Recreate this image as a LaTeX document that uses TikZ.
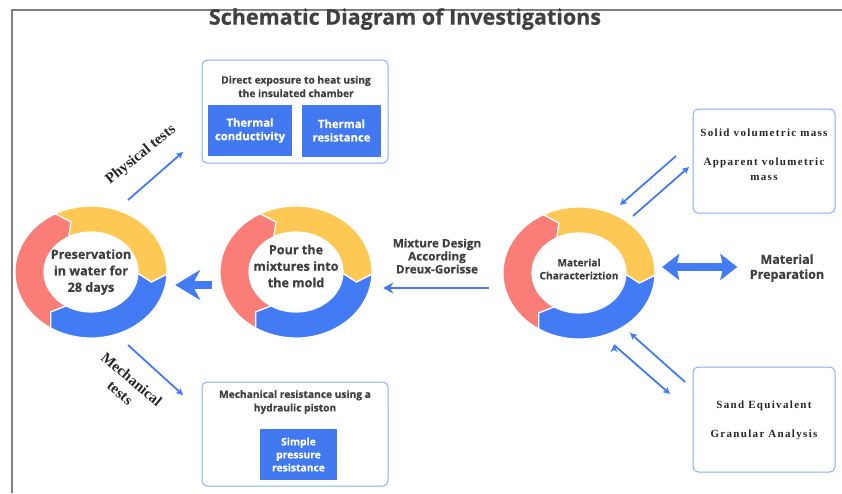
\documentclass[tikz,border=0pt]{standalone}
\usepackage{fontspec}
\setmainfont{Open Sans}[BoldFeatures={FakeBold=0.6}]
\newfontfamily\notefont{Liberation Serif}[LetterSpace=12]
\newfontfamily\labelfont{Liberation Serif}
\usetikzlibrary{arrows.meta,positioning,shapes.geometric}

\definecolor{ringred}{RGB}{250,125,120}
\definecolor{ringyellow}{RGB}{254,200,84}
\definecolor{ringblue}{RGB}{66,123,244}
\definecolor{boxblue}{RGB}{66,120,240}
\definecolor{boxline}{RGB}{140,170,245}
\definecolor{textgray}{RGB}{64,64,64}
\definecolor{framegray}{RGB}{128,128,128}

% one piece of a ring: colour, start angle, end angle (clockwise)
\newcommand\ringseg[3]{%
  \fill[#1,draw=white,line width=1.2pt] (#2:76 and 66)
    arc[start angle=#2,end angle=#3,x radius=76,y radius=66]
    -- (#3-9:61.5 and 53) -- (#3:47 and 40)
    arc[start angle=#3,end angle=#2,x radius=47,y radius=40]
    -- (#2-9:61.5 and 53) -- cycle;}

\tikzset{
  ring/.pic={
    \begin{scope}[yscale=-1]
      \ringseg{ringred}{238}{118}
      \ringseg{ringyellow}{118}{-2}
      \ringseg{ringblue}{-2}{-122}
    \end{scope}
  },
  ringtext/.style={ellipse,minimum width=152pt,minimum height=132pt,inner sep=0pt,
    align=center,text=textgray,font=\bfseries\fontsize{12.6}{16.5}\selectfont},
  testbox/.style={draw=boxline,line width=1pt,rounded corners=5pt},
  boxtitle/.style={align=center,text=textgray,font=\bfseries\fontsize{10.2}{13.5}\selectfont},
  bluebox/.style={fill=boxblue,text=white,align=center,inner sep=0pt,
    font=\bfseries\fontsize{11.3}{13.5}\selectfont},
  note/.style={align=center,text=black!85,font=\notefont\bfseries\fontsize{11}{15}\selectfont},
  flowlabel/.style={align=center,text=textgray,font=\bfseries\fontsize{11.7}{13}\selectfont},
  testlabel/.style={align=center,text=black!85,inner sep=0pt,
    font=\labelfont\bfseries\fontsize{15}{18}\selectfont},
  thinarrow/.style={-{Stealth[length=7pt,width=7pt,inset=2pt]},draw=ringblue,line width=1.8pt},
}

\begin{document}
\begin{tikzpicture}[x=1pt,y=-1pt,on grid]
                            % \draw[help lines] (0,0) grid (842,493);
                            \useasboundingbox (0,0) rectangle (842,493);
                            \draw[framegray,line width=1.5pt] (842,10) -- (12,10) -- (12,493);

                            \node[text=textgray,font=\bfseries\fontsize{21.5}{24}\selectfont] (title) at (405,19) {Schematic Diagram of Investigations};

                            \node[ringtext] (keep) at (91,272) {Preservation\\in water for\\28 days};
                            \node[ringtext] (pour) at (296,266) {Pour the\\mixtures into\\the mold};
                            \node[ringtext,font=\bfseries\fontsize{10.2}{13}\selectfont] (charac) at (579,269) {Material\\Characteriztion};
                            \pic at (keep) {ring};
                            \pic at ([yshift=-6pt]pour.center) {ring};
                            \pic at ([yshift=-4pt]charac.center) {ring};

                            \node[testbox,minimum width=186pt,minimum height=103pt] (heatbox) at (295,111.5) {};
                            \node[boxtitle] (heattitle) at (296,86.5) {Direct exposure to heat using\\the insulated chamber};
                            \node[bluebox,minimum width=84pt,minimum height=51pt] (conduct) at (250,130.5) {Thermal\\conductivity};
                            \node[bluebox,minimum width=79pt,minimum height=52pt] (resist) [right=91.5pt of conduct] {Thermal\\resistance};

                            \node[testbox,minimum width=186pt,minimum height=104pt] (pressbox) [below=322.5pt of heatbox] {};
                            \node[boxtitle] (presstitle) at (295,402) {Mechanical resistance using a\\hydraulic piston};
                            \node[bluebox,minimum width=77pt,minimum height=51pt,font=\bfseries\fontsize{10.3}{13}\selectfont] (simple) at (298.5,454.5) {Simple\\pressure\\resistance};

                            \node[testbox,minimum width=142pt,minimum height=104pt] (massbox) at (764,161) {};
                            \node[note] (masstext) at (764,155) {Solid volumetric mass\\[14pt]Apparent volumetric\\mass};
                            \node[testbox,minimum width=142pt,minimum height=105pt] (sandbox) [below=258.5pt of massbox] {};
                            \node[note] (sandtext) at (764,420) {Sand Equivalent\\[14pt]Granular Analysis};

                            \node[flowlabel,font=\bfseries\fontsize{12.5}{15}\selectfont] (prep) at (787,268) {Material\\Preparation};
                            \node[flowlabel] (mixlabel) at (437,256) {Mixture Design\\According\\Dreux-Gorisse};
                            \node[testlabel,rotate=39] (physlabel) at (141,155) {Physical tests};
                            \node[testlabel,rotate=-40] (mechlabel) at (126,386) {Mechanical\\tests};

                            \coordinate (phys-from) at (128,200);
                            \coordinate (phys-to) at (183,152);
                            \coordinate (mech-from) at (128,345);
                            \coordinate (mech-to) at (183,395);
                            \coordinate (mass-out) at (676,156);
                            \coordinate (mass-in) at (620,205);
                            \coordinate (mass-back) at (633,216);
                            \coordinate (mass-end) at (689,167);
                            \coordinate (sand-out) at (685,382);
                            \coordinate (sand-in) at (630,333);
                            \coordinate (sand-back) at (614,345);
                            \coordinate (sand-end) at (670,394);

                            \draw[-{Stealth[length=25pt,width=30pt,inset=8pt]},ringblue,line width=8pt,shorten <=8pt,shorten >=8pt]
                                ([yshift=-19pt]pour.west) -- ([yshift=-13pt]keep.east);
                            \draw[-{Stealth[length=10pt,width=11pt,inset=3pt]},ringblue,line width=2.5pt,shorten <=14pt,shorten >=11pt]
                                ([yshift=-19pt]charac.west) -- ([yshift=-22pt]pour.east);
                            \draw[{Stealth[length=17pt,width=26pt,inset=3pt]}-{Stealth[length=17pt,width=26pt,inset=3pt]},ringblue,line width=8pt,shorten <=7pt,shorten >=9pt]
                                ([yshift=2pt]charac.east) -- ([yshift=1pt]prep.west);

                            \path[thinarrow]
                                (phys-from) edge (phys-to)
                                (mech-from) edge (mech-to)
                                (mass-out)  edge (mass-in)
                                (mass-back) edge (mass-end)
                                (sand-out)  edge (sand-in)
                                (sand-back) edge (sand-end);
                        \end{tikzpicture}
\end{document}
